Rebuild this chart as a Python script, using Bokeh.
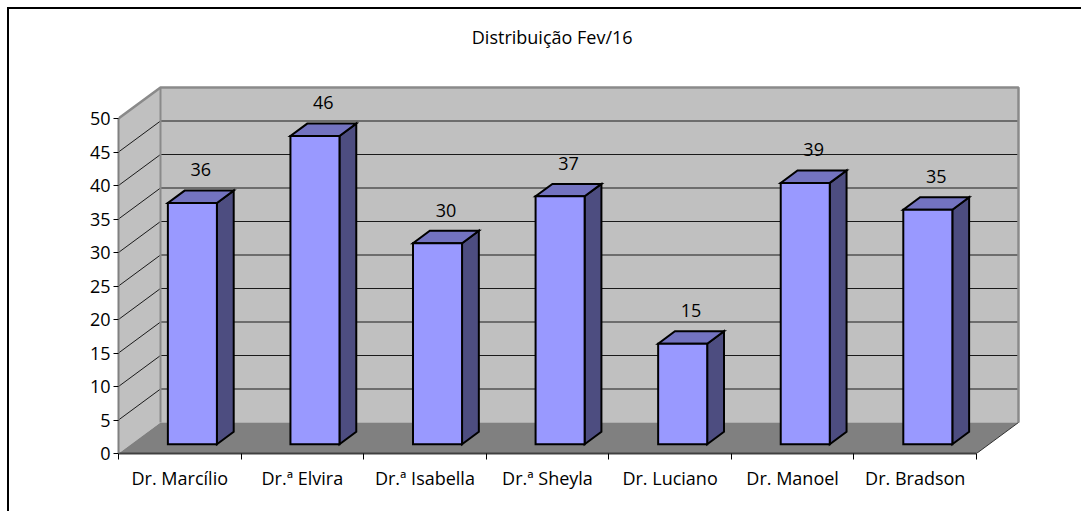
from bokeh.plotting import figure
from bokeh.models import FixedTicker, Label, ColumnDataSource, Range1d
from bokeh.embed import file_html
from bokeh.resources import INLINE
from bokeh.core.properties import value

# ---------------- data ----------------
categories = ["Dr. Marcílio", "Dr.ª Elvira", "Dr.ª Isabella", "Dr.ª Sheyla",
              "Dr. Luciano", "Dr. Manoel", "Dr. Bradson"]
values = [36, 46, 30, 37, 15, 39, 35]
y_ticks = [0, 5, 10, 15, 20, 25, 30, 35, 40, 45, 50]
title_text = "Distribuição Fev/16"

# ---------------- geometry / style ----------------
PX_X = 122.571          # pixels per category
PX_Y = 6.7              # pixels per unit
DX = 42 / PX_X          # depth offset (x, data units)
DY = 31 / PX_Y          # depth offset (y, data units)
F1, F2 = 0.3, 0.7       # bar depth fractions
HW = 0.2                # bar half width
N = len(categories)
YMAX = y_ticks[-1]
FONT = "Open Sans"
FS = "18px"

W, H = 1074, 504
ML, MB, MR = 109, 60, 20
x_end = (W - ML - MR) / PX_X
y_end = (H - MB) / PX_Y

p = figure(width=W, height=H, output_backend="svg", toolbar_location=None,
           x_range=Range1d(0, x_end), y_range=Range1d(0, y_end),
           min_border_left=ML, min_border_bottom=MB, min_border_top=0, min_border_right=MR)
p.outline_line_color = None
p.xgrid.visible = False
p.ygrid.visible = False
p.background_fill_color = "white"
p.border_fill_color = "white"
p.styles = {"margin-left": "9px", "margin-top": "9px",
            "box-shadow": "-2px -2px 0px 0px black"}

# walls & floor
p.patch([DX, N + DX, N + DX, DX], [DY, DY, YMAX + DY, YMAX + DY],
        fill_color="#c0c0c0", line_color=None)
p.patch([0, DX, DX, 0], [0, DY, YMAX + DY, YMAX], fill_color="#c0c0c0", line_color=None)
p.patch([0, N, N + DX, DX], [0, 0, DY, DY], fill_color="#808080", line_color=None)

# gridlines
inner = [t for t in y_ticks if 0 < t < YMAX]
p.segment(x0=[DX] * len(inner), y0=[t + DY for t in inner],
          x1=[N + DX] * len(inner), y1=[t + DY for t in inner],
          line_color="#1a1a1a", line_width=1)
p.segment(x0=[0] * len(inner), y0=inner,
          x1=[DX] * len(inner), y1=[t + DY for t in inner],
          line_color="#1a1a1a", line_width=1)

# wall edges
p.line([0, DX, N + DX, N + DX], [YMAX, YMAX + DY, YMAX + DY, DY],
       line_color="#8a8a8a", line_width=2.5)
p.line([DX, DX], [DY, YMAX + DY], line_color="#8a8a8a", line_width=2)
p.line([N, N + DX], [0, DY], line_color="#303030", line_width=1)

# bars
front_xs, front_ys, top_xs, top_ys, side_xs, side_ys = [], [], [], [], [], []
for i, v in enumerate(values):
    c = i + 0.5
    l1, r1 = c - HW + F1 * DX, c + HW + F1 * DX
    l2, r2 = c - HW + F2 * DX, c + HW + F2 * DX
    b1, b2 = F1 * DY, F2 * DY
    front_xs.append([l1, r1, r1, l1]); front_ys.append([b1, b1, v + b1, v + b1])
    top_xs.append([l1, r1, r2, l2]); top_ys.append([v + b1, v + b1, v + b2, v + b2])
    side_xs.append([r1, r2, r2, r1]); side_ys.append([b1, b2, v + b2, v + b1])

p.patches(side_xs, side_ys, fill_color="#4d4d80", line_color="black", line_width=2, line_join="miter")
p.patches(top_xs, top_ys, fill_color="#7373c0", line_color="black", line_width=2, line_join="miter")
p.patches(front_xs, front_ys, fill_color="#9999ff", line_color="black", line_width=2, line_join="miter")

# data labels
lab = ColumnDataSource(dict(x=[i + 0.5 + 0.5 * DX for i in range(N)],
                            y=[v + 0.5 * DY for v in values],
                            t=[str(v) for v in values]))
p.text(x="x", y="y", text="t", source=lab, y_offset=-27,
       text_align="center", text_baseline="alphabetic",
       text_font=value(FONT), text_font_size=FS, text_color="black")

# title
p.add_layout(Label(x=(551.7 - 118) / PX_X, y=(453 - 36) / PX_Y, text=title_text,
                   text_align="center", text_baseline="alphabetic",
                   text_font=FONT, text_font_size=FS, text_color="black"))

# axes
xa = p.xaxis[0]
xa.bounds = (0, N)
xa.ticker = FixedTicker(ticks=[i + 0.5 for i in range(N)], minor_ticks=list(range(N + 1)))
xa.major_label_overrides = {i + 0.5: c for i, c in enumerate(categories)}
xa.major_tick_line_color = None
xa.major_tick_out = 0
xa.major_tick_in = 0
xa.minor_tick_out = 6
xa.minor_tick_in = 0
xa.minor_tick_line_color = "black"
xa.axis_line_color = "#404040"
xa.axis_line_width = 2
xa.major_label_standoff = 6
xa.major_label_text_font = FONT
xa.major_label_text_font_size = FS
xa.major_label_text_color = "black"

ya = p.yaxis[0]
ya.bounds = (0, YMAX)
ya.ticker = FixedTicker(ticks=y_ticks)
ya.major_tick_out = 5
ya.major_tick_in = 0
ya.major_tick_line_color = "black"
ya.minor_tick_line_color = None
ya.axis_line_color = "#808080"
ya.axis_line_width = 2
ya.major_label_standoff = 3
ya.major_label_text_font = FONT
ya.major_label_text_font_size = FS
ya.major_label_text_color = "black"

open("out.html", "w").write(file_html(p, INLINE))
